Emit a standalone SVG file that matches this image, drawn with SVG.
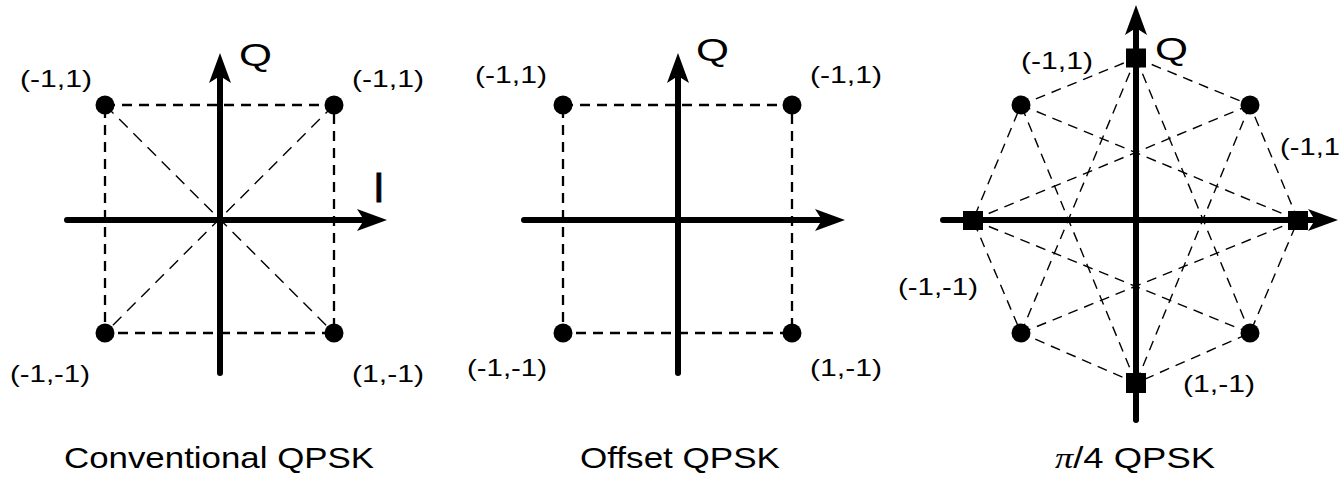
<svg xmlns="http://www.w3.org/2000/svg" width="1339" height="481" viewBox="0 0 1339 481">
<defs>
<marker id="arr" markerUnits="userSpaceOnUse" viewBox="0 0 30 22" markerWidth="30" markerHeight="22" refX="11" refY="11" orient="auto">
<path d="M0,0 L30,11 L0,22 L7,11 Z" fill="#000"/>
</marker>
</defs>
<style>
.axis{stroke:#000;stroke-width:6;stroke-linecap:round;fill:none}
.box{stroke:#000;stroke-width:2.3;stroke-dasharray:10 7;fill:none}
.diag{stroke:#000;stroke-width:1.4;stroke-dasharray:12 8;fill:none}
.star{stroke:#000;stroke-width:1.4;stroke-dasharray:10 7;fill:none}
.dot{fill:#000}
.lbl{font-family:"Liberation Sans",Arial,sans-serif;font-size:24px;fill:#000}
.ax{font-family:"Liberation Sans",Arial,sans-serif;font-size:31px;fill:#000}
.ttl{font-family:"Liberation Sans",Arial,sans-serif;font-size:29px;fill:#000}
</style>
<rect width="1339" height="481" fill="#fff"/>

<g id="connectors">
<rect class="box" x="105" y="105" width="229" height="228"/>
<line class="diag" x1="105" y1="105" x2="334" y2="333"/>
<line class="diag" x1="334" y1="105" x2="105" y2="333"/>
<rect class="box" x="563" y="105" width="229" height="228"/>
<polygon class="star" points="1136,58 1250,105 1298,220 1250,333 1136,383 1021,333 973,220 1021,105"/>
<line class="star" x1="1136" y1="58" x2="1250" y2="333"/>
<line class="star" x1="1250" y1="105" x2="1136" y2="383"/>
<line class="star" x1="1298" y1="220" x2="1021" y2="333"/>
<line class="star" x1="1250" y1="333" x2="973" y2="220"/>
<line class="star" x1="1136" y1="383" x2="1021" y2="105"/>
<line class="star" x1="1021" y1="333" x2="1136" y2="58"/>
<line class="star" x1="973" y1="220" x2="1250" y2="105"/>
<line class="star" x1="1021" y1="105" x2="1298" y2="220"/>
</g>

<g id="axes">
<line class="axis" x1="67" y1="220" x2="368" y2="220" marker-end="url(#arr)"/>
<line class="axis" x1="220" y1="373" x2="220" y2="72" marker-end="url(#arr)"/>
<text class="ax" x="239" y="66" textLength="33" lengthAdjust="spacingAndGlyphs">Q</text>
<text x="373" y="202" style="font-family:'Liberation Sans',Arial,sans-serif;font-size:42px;stroke:#000;stroke-width:0.8">I</text>

<line class="axis" x1="524" y1="220" x2="826" y2="220" marker-end="url(#arr)"/>
<line class="axis" x1="678" y1="373" x2="678" y2="72" marker-end="url(#arr)"/>
<text class="ax" x="696" y="61" textLength="33" lengthAdjust="spacingAndGlyphs">Q</text>

<line class="axis" x1="943" y1="220" x2="1319" y2="220" marker-end="url(#arr)"/>
<line class="axis" x1="1136" y1="420" x2="1136" y2="24" marker-end="url(#arr)"/>
<text class="ax" x="1155" y="60" textLength="33" lengthAdjust="spacingAndGlyphs">Q</text>
</g>

<g id="p1-tl"><circle class="dot" cx="105" cy="105" r="9.5"/><text class="lbl" x="20" y="87" textLength="72" lengthAdjust="spacingAndGlyphs">(-1,1)</text></g>
<g id="p1-tr"><circle class="dot" cx="334" cy="105" r="9.5"/><text class="lbl" x="352" y="87" textLength="72" lengthAdjust="spacingAndGlyphs">(-1,1)</text></g>
<g id="p1-bl"><circle class="dot" cx="105" cy="333" r="9.5"/><text class="lbl" x="10" y="382" textLength="80" lengthAdjust="spacingAndGlyphs">(-1,-1)</text></g>
<g id="p1-br"><circle class="dot" cx="334" cy="333" r="9.5"/><text class="lbl" x="352" y="382" textLength="72" lengthAdjust="spacingAndGlyphs">(1,-1)</text></g>

<g id="p2-tl"><circle class="dot" cx="563" cy="105" r="9.5"/><text class="lbl" x="475" y="83" textLength="72" lengthAdjust="spacingAndGlyphs">(-1,1)</text></g>
<g id="p2-tr"><circle class="dot" cx="792" cy="105" r="9.5"/><text class="lbl" x="810" y="83" textLength="72" lengthAdjust="spacingAndGlyphs">(-1,1)</text></g>
<g id="p2-bl"><circle class="dot" cx="563" cy="333" r="9.5"/><text class="lbl" x="467" y="376" textLength="80" lengthAdjust="spacingAndGlyphs">(-1,-1)</text></g>
<g id="p2-br"><circle class="dot" cx="792" cy="333" r="9.5"/><text class="lbl" x="810" y="376" textLength="72" lengthAdjust="spacingAndGlyphs">(1,-1)</text></g>

<g id="p3-top"><rect class="dot" x="1126" y="48.5" width="20" height="19"/><text class="lbl" x="1021" y="69" textLength="72" lengthAdjust="spacingAndGlyphs">(-1,1)</text></g>
<g id="p3-tr"><circle class="dot" cx="1250" cy="105" r="9.5"/></g>
<g id="p3-right"><rect class="dot" x="1288" y="211" width="20" height="19"/><text class="lbl" x="1280" y="155" textLength="60" lengthAdjust="spacingAndGlyphs">(-1,1</text></g>
<g id="p3-br"><circle class="dot" cx="1250" cy="333" r="9.5"/></g>
<g id="p3-bottom"><rect class="dot" x="1126" y="373" width="20" height="20"/><text class="lbl" x="1183" y="392" textLength="72" lengthAdjust="spacingAndGlyphs">(1,-1)</text></g>
<g id="p3-bl"><circle class="dot" cx="1021" cy="333" r="9.5"/></g>
<g id="p3-left"><rect class="dot" x="963" y="211" width="20" height="19"/><text class="lbl" x="898" y="295" textLength="80" lengthAdjust="spacingAndGlyphs">(-1,-1)</text></g>
<g id="p3-tl"><circle class="dot" cx="1021" cy="105" r="9.5"/></g>

<g id="titles">
<text class="ttl" x="64" y="468" textLength="310" lengthAdjust="spacingAndGlyphs">Conventional QPSK</text>
<text class="ttl" x="580" y="468" textLength="200" lengthAdjust="spacingAndGlyphs">Offset QPSK</text>
<text class="ttl" x="1055" y="468" textLength="160" lengthAdjust="spacingAndGlyphs"><tspan style="font-family:'Liberation Serif',serif;font-style:italic">π</tspan>/4 QPSK</text>
</g>
</svg>
